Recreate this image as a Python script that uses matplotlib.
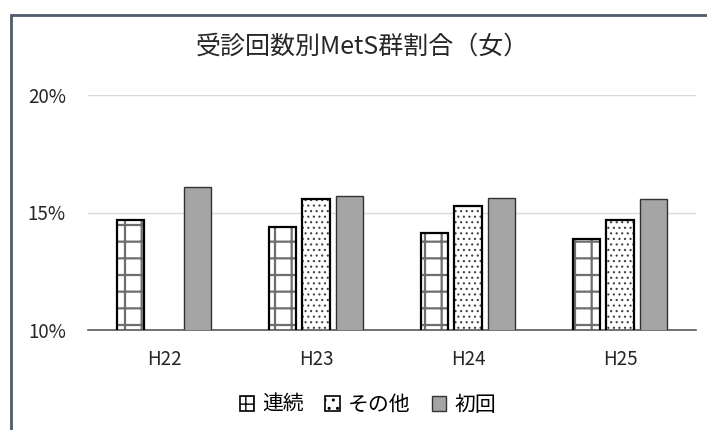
import matplotlib.pyplot as plt
from matplotlib.patches import Patch, Rectangle
import numpy as np

plt.rcParams['font.family'] = ['Noto Sans CJK JP', 'DejaVu Sans']

years = ["H22", "H23", "H24", "H25"]
renzoku = [14.67, 14.39, 14.12, 13.87]
sonota = [np.nan, 15.58, 15.27, 14.67]
shokai = [16.08, 15.72, 15.63, 15.59]
series_names = ["連続", "その他", "初回"]

fig = plt.figure(figsize=(7.07, 4.3), dpi=100)
ax = fig.add_axes([88 / 707, 1 - 330 / 430, 608 / 707, 235 / 430])

x = np.arange(len(years))
w = 0.178
off = 0.22


def set_hlw(bars, lw):
    # hatch line width per patch (matplotlib >= 3.10)
    for b in bars:
        if hasattr(b, "set_hatch_linewidth"):
            b.set_hatch_linewidth(lw)


# grid pattern for 連続 (hatch in gray, then black outline on top)
b1 = ax.bar(x - off, renzoku, w, color="white", edgecolor="#6E6E6E",
            hatch="+", linewidth=0, zorder=2)
set_hlw(b1, 1.6)
ax.bar(x - off, renzoku, w, fill=False, edgecolor="black", linewidth=1.6, zorder=3)

# dotted pattern for その他
b2 = ax.bar(x, sonota, w, color="white", edgecolor="#404040", hatch="...",
            linewidth=0, zorder=2)
set_hlw(b2, 0.8)
ax.bar(x, sonota, w, fill=False, edgecolor="black", linewidth=1.6, zorder=3)

ax.bar(x + off, shokai, w, color="#A5A5A5", edgecolor="#333333",
       linewidth=1.0, zorder=3)

ax.set_ylim(10, 20)
ax.set_xlim(-0.5, 3.5)
ax.set_yticks([10, 15, 20])
ax.set_yticklabels(["10%", "15%", "20%"])
ax.set_xticks(x)
ax.set_xticklabels(years)
ax.tick_params(axis="both", length=0, labelsize=13.5, colors="#262626")
ax.tick_params(axis="y", pad=16)
ax.tick_params(axis="x", pad=14)
ax.grid(axis="y", color="#D9D9D9", linewidth=1.0, zorder=0)
ax.set_axisbelow(True)
for s in ["top", "right", "left"]:
    ax.spines[s].set_visible(False)
ax.spines["bottom"].set_color("#595959")
ax.spines["bottom"].set_linewidth(1.2)

fig.text(362 / 707, 1 - 47 / 430, "受診回数別MetS群割合（女）", ha="center",
         va="center", fontsize=18, color="#262626")

handles = [
    Patch(facecolor="white", edgecolor="black", hatch="++", linewidth=1.2),
    Patch(facecolor="white", edgecolor="black", hatch="..", linewidth=1.2),
    Patch(facecolor="#A5A5A5", edgecolor="#333333", linewidth=1.0),
]
fig.legend(handles, series_names, loc="center", bbox_to_anchor=(368 / 707, 1 - 405 / 430),
           ncol=3, frameon=False, fontsize=15, handlelength=0.7, handleheight=0.7,
           handletextpad=0.4, columnspacing=1.0)

# chart area border
fig.patches.append(Rectangle((11 / 707, -0.1), 1.2, 1 - 15 / 430 + 0.1,
                             transform=fig.transFigure, fill=False,
                             edgecolor="#4F5B6B", linewidth=2))

fig.savefig("out.png", dpi=100)
